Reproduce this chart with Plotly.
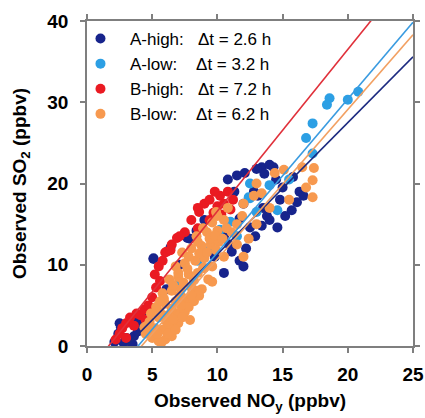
import plotly.graph_objects as go

# series labels / colours
names = ["\u00a0\u00a0A-high:\u00a0\u00a0\u00a0\u0394t = 2.6 h", "\u00a0\u00a0A-low:\u00a0\u00a0\u00a0\u00a0\u0394t = 3.2 h",
         "\u00a0\u00a0B-high:\u00a0\u00a0\u00a0\u0394t = 7.2 h", "\u00a0\u00a0B-low:\u00a0\u00a0\u00a0\u00a0\u0394t = 6.2 h"]
colors = ["#17248c", "#2c9fe4", "#ea1a22", "#f7994f"]

# A-high (dark blue)
ah_x = [2.1, 2.4, 2.6, 2.8, 3.0, 3.3, 3.6, 3.9, 4.2, 3.5, 2.5, 3.9, 5.1, 5.1, 6.1, 6.4, 7.1, 7.1, 7.7, 7.9,
        8.4, 9.0, 10.8, 11.5, 12.1, 13.4, 14.0, 13.6, 16.3, 16.1, 15.7, 14.6, 12.5, 11.7, 13.4, 11.7, 11.1,
        10.5, 12.8, 13.1, 14.5, 15.0, 10.5, 9.8, 13.5, 14.8, 12.0, 4.3,
        12.2, 12.9, 13.8, 15.2, 16.6, 11.3, 13.0, 14.3, 10.9, 12.0, 14.0, 15.8]
ah_y = [0.5, 1.5, 2.3, 0.4, 1.0, 0.8, 1.2, 1.8, 2.6, 0.2, 2.8, 3.0, 10.7, 10.8, 7.0, 12.1, 7.9, 10.0, 13.3, 13.2,
        14.2, 15.5, 20.5, 21.0, 21.3, 22.0, 22.3, 21.2, 19.0, 17.7, 16.7, 14.6, 14.6, 15.7, 14.8, 10.5, 11.6,
        13.5, 19.0, 18.5, 20.5, 19.5, 9.0, 11.0, 17.0, 18.0, 17.5, 3.6,
        12.0, 13.5, 16.0, 16.0, 18.5, 19.0, 21.8, 22.0, 12.5, 9.8, 15.5, 20.8]

# A-low (light blue)
al_x = [20.8, 20.0, 18.6, 18.4, 17.3, 16.8, 17.3, 14.0, 12.4, 12.5, 12.5, 14.6, 10.2, 11.0, 7.1, 9.5, 13.0,
        11.5, 15.5, 8.5, 10.0]
al_y = [31.3, 30.3, 30.5, 29.7, 27.4, 25.6, 23.7, 19.8, 18.3, 20.0, 18.2, 16.7, 14.3, 15.3, 7.8, 12.0, 16.5,
        13.5, 20.5, 10.5, 13.6]

# B-high (red)
bh_x = [2.2, 2.5, 2.7, 3.0, 3.0, 3.3, 3.6, 3.8, 4.1, 4.4, 4.7, 4.5, 5.0, 5.3, 5.6, 5.2, 5.5, 5.8, 6.0, 6.1,
        6.5, 6.9, 7.5, 8.0, 8.5, 8.6, 9.0, 9.4, 9.4, 9.7, 10.0, 10.2, 10.5, 10.8, 11.2, 11.0, 10.3, 9.8, 8.5,
        6.4, 7.1]
bh_y = [0.8, 1.5, 2.2, 1.0, 2.8, 3.5, 2.5, 4.0, 3.8, 4.5, 5.0, 3.2, 6.0, 7.2, 8.0, 8.8, 9.8, 10.5, 11.5, 11.6,
        12.5, 13.3, 14.0, 15.5, 14.5, 16.5, 17.5, 15.5, 18.0, 16.4, 17.2, 18.5, 17.5, 19.0, 18.0, 16.8, 16.2,
        19.0, 17.0, 11.8, 13.5]

# B-low (orange)
bl_x = [4.5, 5.0, 5.5, 6.0, 6.5, 5.2, 5.8, 6.4, 7.0, 4.8, 5.5, 6.2, 6.9, 7.5, 5.3, 6.0, 6.8, 7.6, 8.2, 5.8,
        6.5, 7.2, 8.0, 8.8, 6.3, 7.0, 7.8, 8.5, 9.3, 6.8, 7.5, 8.3, 9.0, 9.6, 7.3, 8.0, 8.8, 9.5, 10.1, 8.4,
        9.2, 10.0, 11.1, 9.6, 10.5, 11.9, 10.8, 12.4, 9.6, 7.9, 8.6, 5.7, 12.0, 12.8, 13.4, 13.0, 14.4, 15.1,
        16.5, 17.4, 17.3, 17.3, 16.8, 14.0, 15.5, 12.0, 13.0, 11.5, 10.5, 9.9, 4.4, 7.3, 8.9,
        4.6, 5.0, 5.4, 6.2, 6.8, 7.3, 7.8, 8.4, 5.6, 6.5, 7.1, 5.9, 6.6, 7.4, 8.2, 9.0, 7.0, 7.7, 8.6, 9.9,
        7.8, 8.5, 9.4, 9.8, 10.4, 10.7, 11.5, 9.2, 8.9, 10.0, 6.1, 6.6, 7.2, 8.0, 4.9, 5.6]
bl_y = [1.5, 1.0, 0.6, 0.8, 1.2, 2.2, 2.0, 2.4, 2.8, 3.0, 3.5, 3.8, 4.0, 4.2, 4.8, 5.2, 5.5, 5.6, 5.5, 6.5,
        6.8, 7.0, 7.2, 7.0, 8.2, 8.5, 8.8, 9.0, 8.2, 9.8, 10.2, 10.5, 10.8, 9.8, 11.5, 12.0, 12.3, 12.5, 12.8,
        13.5, 14.0, 14.2, 14.0, 15.2, 15.5, 16.0, 17.0, 13.2, 7.9, 3.2, 6.2, 0.4, 17.5, 18.5, 18.8, 20.0, 21.3,
        21.7, 22.0, 21.9, 20.4, 18.3, 19.5, 17.0, 18.0, 11.0, 15.0, 12.5, 11.0, 16.5, 2.3, 6.0, 9.6,
        2.5, 2.0, 1.5, 1.5, 2.0, 3.5, 4.8, 6.8, 4.2, 4.6, 6.2, 5.8, 7.5, 7.8, 8.1, 9.6, 9.0, 9.5, 11.4, 11.8,
        11.0, 12.8, 13.2, 13.6, 13.2, 14.5, 15.0, 11.5, 14.5, 16.0, 3.0, 3.3, 5.0, 6.3, 4.0, 5.5]

# fitted lines: slope, intercept (A-high, A-low, B-high, B-low)
slopes = [1.62, 1.89, 1.99, 1.84]
intercepts = [-4.9, -7.4, -3.3, -7.7]
line_colors = ["#1c2a80", "#3a9be0", "#e0303a", "#f2a062"]

xs = [ah_x, al_x, bh_x, bl_x]
ys = [ah_y, al_y, bh_y, bl_y]

fig = go.Figure()
for i in range(4):
    fig.add_trace(go.Scatter(x=xs[i], y=ys[i], mode="markers", name=names[i],
                             marker=dict(color=colors[i], size=10, line=dict(width=0))))

x_ends = [0, 25]
for i in range(4):
    fig.add_trace(go.Scatter(x=x_ends, y=[slopes[i]*x + intercepts[i] for x in x_ends], mode="lines",
                             line=dict(color=line_colors[i], width=1.6), showlegend=False, hoverinfo="skip"))

axis_style = dict(showline=True, linecolor="#7f7f7f", linewidth=1.5, mirror="ticks", ticks="outside",
                  ticklen=5, tickcolor="#7f7f7f", tickwidth=1.5, showgrid=False, zeroline=False,
                  automargin=False,
                  tickfont=dict(family="Arial", size=19, color="black", weight="bold"))

fig.update_layout(
    width=425, height=418,
    margin=dict(l=87, r=12, t=21, b=72),
    plot_bgcolor="white", paper_bgcolor="white",
    showlegend=True,
    legend=dict(x=-0.02, y=1.0, xanchor="left", yanchor="top", bgcolor="rgba(0,0,0,0)",
                font=dict(family="Arial", size=17, color="black"), itemwidth=30,
                tracegroupgap=0),
    xaxis=dict(range=[0, 25], tickvals=[0, 5, 10, 15, 20, 25], ticklabelstandoff=5,
               title=dict(text="Observed NO<sub>y</sub> (ppbv)", standoff=10,
                          font=dict(family="Arial", size=19, color="black", weight="bold")),
               **axis_style),
    yaxis=dict(range=[0, 40], tickvals=[0, 10, 20, 30, 40], ticklabelstandoff=8,
               title=dict(text="Observed SO<sub>2</sub> (ppbv)", standoff=16,
                          font=dict(family="Arial", size=19, color="black", weight="bold")),
               **axis_style),
)

# drop the page's default body margin so the figure sits at the window's corner
fig.write_html("out.html", config={"displayModeBar": False},
               post_script="document.body.style.margin='0';document.body.style.overflow='hidden';")
